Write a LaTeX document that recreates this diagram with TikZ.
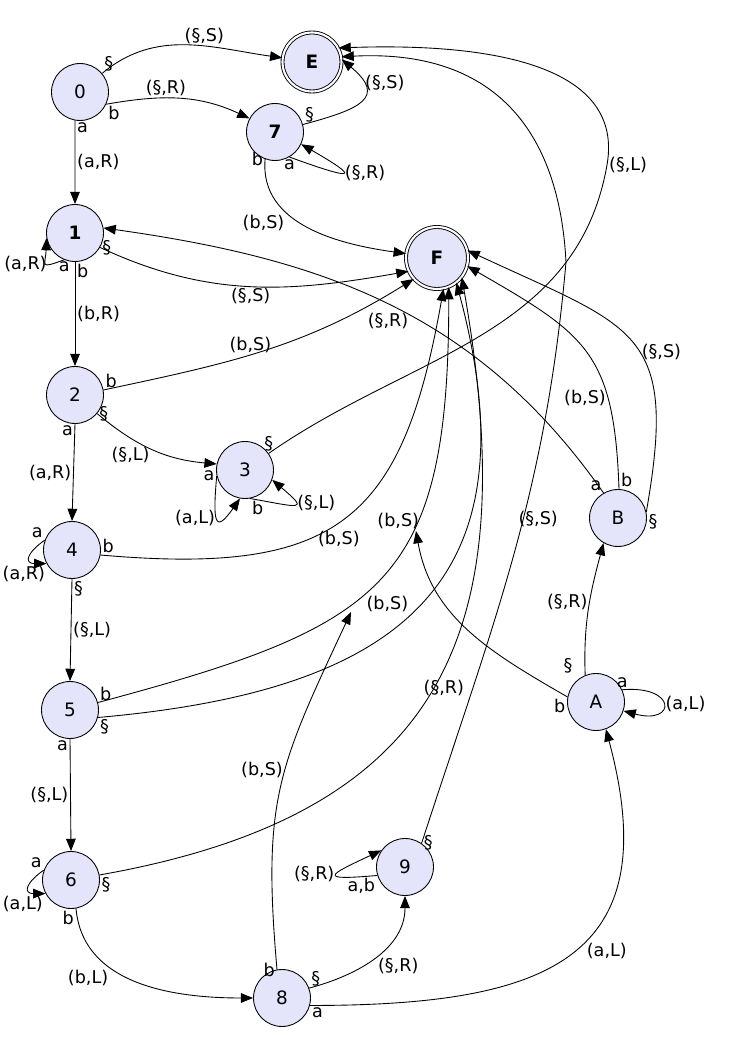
\documentclass[tikz,border=0pt]{standalone}
\usepackage{fontspec}
\setmainfont{DejaVu Sans}
\usepackage{tikz}
\usetikzlibrary{
    automata,
    arrows.meta
}
\definecolor{relleno}{RGB}{228,229,250}
\tikzset{
    >={Triangle[length=7pt,width=5.5pt]},
    every state/.style={
        fill=relleno,
        minimum size=1.14cm,
        inner sep=1pt,
        font=\fontsize{10.5}{12}\selectfont
    },
    accepting/.style={
        double,
        double distance=1.2pt,
        minimum size=1.18cm
    },
    lab/.style={inner sep=1pt, font=\fontsize{10}{12}\selectfont},
    sim/.style={inner sep=1pt, font=\fontsize{10}{12}\selectfont}
}

\begin{document}
\begin{tikzpicture}[
    x=0.02cm, y=0.02cm,
    line width=0.5pt
]
    \useasboundingbox (0,0) rectangle (734,1052);

    % Estados
    \node[state]            (s0) at (80,960)  {0};
    \node[state, accepting] (E)  at (312,990) {\textbf{E}};
    \node[state]            (s7) at (275,920) {\textbf{7}};
    \node[state]            (s1) at (75,819)  {\textbf{1}};
    \node[state, accepting, minimum size=1.24cm] (F) at (437,794) {\textbf{F}};
    \node[state]            (s2) at (75,657)  {2};
    \node[state]            (s3) at (245,582) {3};
    \node[state]            (s4) at (72,502)  {4};
    \node[state]            (B)  at (618,534) {B};
    \node[state]            (s5) at (70,342)  {5};
    \node[state]            (A)  at (596,350) {A};
    \node[state]            (s6) at (71,172)  {6};
    \node[state]            (s9) at (405,185) {9};
    \node[state]            (s8) at (282,54)  {8};

    % Extremos sueltos
    \coordinate (pA) at (416,521);
    \coordinate (p8) at (351,440);

    % Transiciones
    \path[->]

        % Desde 0
        (s0.40)
            edge[out=40,in=172]
                node[sim,pos=0,anchor=south west] {§}
                node[lab,pos=0.6,above] {(§,S)} (E.172)
        (s0.-25)
            edge[out=10,in=155]
                node[sim,pos=0,anchor=north west] {b}
                node[lab,pos=0.4,above] {(§,R)} (s7.152)
        (s0.-100)
            edge node[sim,pos=0,anchor=north west] {a}
                 node[lab,right] {(a,R)} (s1.90)

        % Desde 7
        (s7.15)
            edge[out=15,in=-40,looseness=2]
                node[sim,pos=0,anchor=south west] {§}
                node[lab,pos=0.75,right] {(§,S)} (E.5)
        (s7.-60)
            edge[out=-20,in=-30,distance=1.4cm]
                node[sim,pos=0,anchor=north] {a}
                node[lab,pos=0.5,right] {(§,R)} (s7.-25)
        (s7.-110)
            edge[out=-95,in=172]
                node[sim,pos=0,anchor=east] {b}
                node[lab,pos=0.35,below left] {(b,S)} (F.172)

        % Desde 1
        (s1.-112)
            edge[out=200,in=-92,distance=0.55cm]
                node[sim,pos=0,anchor=north] {a}
                node[lab,pos=0.3,left] {(a,R)} (s1.190)
        (s1.-30)
            edge[out=-25,in=190]
                node[sim,pos=0,anchor=west] {§}
                node[lab,pos=0.5,below] {(§,S)} (F.205)
        (s1.-90)
            edge node[sim,pos=0,anchor=north west] {b}
                 node[lab,right] {(b,R)} (s2.90)

        % Desde 2
        (s2.10)
            edge[out=12,in=212]
                node[sim,pos=0,anchor=south west] {b}
                node[lab,pos=0.45,above] {(b,S)} (F.222)
        (s2.-40)
            edge[out=-40,in=175]
                node[sim,pos=0,anchor=west] {§}
                node[lab,pos=0.3,below=4pt] {(§,L)} (s3.168)
        (s2.-90)
            edge node[sim,pos=0,anchor=north east] {a}
                 node[lab,left] {(a,R)} (s4.90)

        % Desde 3
        (s3.192)
            edge[out=-95,in=-125,distance=0.9cm]
                node[sim,pos=0,anchor=east] {a}
                node[lab,pos=0.5,left] {(a,L)} (s3.-100)
        (s3.-80)
            edge[out=-10,in=-40,distance=1cm]
                node[sim,pos=0,anchor=north west] {b}
                node[lab,pos=0.6,right] {(§,L)} (s3.-20)

        % Desde 4
        (s4.160)
            edge[out=215,in=180,distance=0.45cm]
                node[sim,pos=0,anchor=south east] {a}
                node[lab,pos=0.6,below=3pt,xshift=-4pt] {(a,R)} (s4.208)
        (s4.-10)
            edge[out=-5,in=-100,looseness=1.4]
                node[sim,pos=0,anchor=south west] {b}
                node[lab,pos=0.48,below=4pt] {(b,S)} (F.-78)
        (s4.-90)
            edge node[sim,pos=0,anchor=north west] {§}
                 node[lab,right] {(§,L)} (s5.90)

        % Desde 5
        (s5.15)
            edge[out=15,in=-90,looseness=1.4]
                node[sim,pos=0,anchor=south west] {b}
                node[lab,pos=0.45,below right] {(b,S)} (F.-68)
        (s5.-15)
            edge[out=5,in=-75,looseness=1.4]
                node[sim,pos=0,anchor=north west] {§} (F.-52)
        (s5.-90)
            edge node[sim,pos=0,anchor=north east] {a}
                 node[lab,left] {(§,L)} (s6.90)

        % Desde 6
        (s6.160)
            edge[out=215,in=180,distance=0.45cm]
                node[sim,pos=0,anchor=south east] {a}
                node[lab,pos=0.6,below=3pt,xshift=-4pt] {(a,L)} (s6.208)
        (s6.10)
            edge[out=10,in=-80,looseness=1.3]
                node[sim,pos=0,anchor=north west] {§}
                node[lab,pos=0.5,xshift=5pt,yshift=-2pt] {(§,R)} (F.-38)
        (s6.-80)
            edge[out=-85,in=180]
                node[sim,pos=0,anchor=north east] {b}
                node[lab,pos=0.35,below left] {(b,L)} (s8.180)

        % Desde 8
        (s8.20)
            edge[out=15,in=-90]
                node[sim,pos=0,anchor=south west] {§}
                node[lab,pos=0.5,below right] {(§,R)} (s9.-90)
        (s8.-15)
            edge[out=0,in=-75,looseness=1.5]
                node[sim,pos=0,anchor=north west] {a}
                node[lab,pos=0.55,below right] {(a,L)} (A.-70)
        (s8.100)
            edge[out=95,in=-115,looseness=1.2]
                node[sim,pos=0,anchor=east] {b}
                node[lab,pos=0.55,left=0pt] {(b,S)} (p8)

        % Desde 9
        (s9.197)
            edge[out=185,in=205,distance=1.2cm]
                node[sim,pos=0,anchor=north east] {a,b}
                node[lab,pos=0.5,left] {(§,R)} (s9.145)

        % Desde A
        (A.25)
            edge[out=5,in=-15,distance=1.1cm]
                node[sim,pos=0,anchor=south] {a}
                node[lab,pos=0.5,right] {(a,L)} (A.-18)
        (A.112)
            edge[out=92,in=-105]
                node[sim,pos=0,anchor=south east,xshift=-6pt] {§}
                node[lab,pos=0.55,left] {(§,R)} (B.-120)
        (A.170)
            edge[out=150,in=-80]
                node[sim,pos=0,anchor=north east] {b}
                node[lab,pos=1,anchor=south east,xshift=3pt] {(b,S)} (pA)

        % Desde B
        (B.120)
            edge[out=125,in=-8]
                node[sim,pos=0,anchor=south east] {a}
                node[lab,pos=0.5,below=4pt] {(§,R)} (s1.10)
        (B.88)
            edge[out=92,in=-30,looseness=1.3]
                node[sim,pos=0,anchor=south west] {b}
                node[lab,pos=0.28,left] {(b,S)} (F.-15)
        (B.12)
            edge[out=80,in=-25,looseness=1.5]
                node[sim,pos=0,anchor=north west] {§}
                node[lab,pos=0.45,right] {(§,S)} (F.14);

    % Hacia E por la derecha
    \draw[->] (s3.35)
        node[sim,anchor=south] {§}
        to[out=35,in=-100] (607,887) node[lab,right] {(§,L)}
        to[out=80,in=2] (E.28);
    \draw[->] (s9.55)
        node[sim,anchor=west] {§}
        to[out=72,in=-95] node[lab,pos=0.57,xshift=0.3cm] {(§,S)} (566,790)
        to[out=93,in=3,looseness=1.2] (E.10);

\end{tikzpicture}
\end{document}
